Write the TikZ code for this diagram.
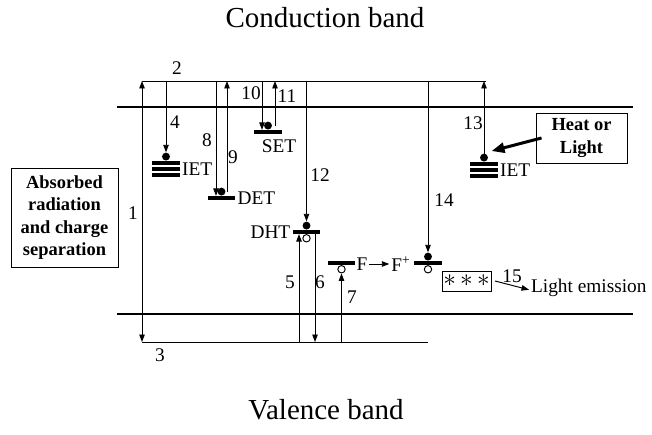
\documentclass[tikz,border=0pt]{standalone}
\usepackage{fontspec}
\setmainfont{Liberation Serif}
\usetikzlibrary{arrows.meta,positioning,calc}
\tikzset{
  >={Triangle[length=1.5mm,width=1.1mm]},
  band/.style={line width=1.2pt},
  thin/.style={line width=0.55pt},
  hop/.style={->,thin},
  lvl/.style={fill=black,inner sep=0pt,minimum width=0.55cm,minimum height=2pt},
  elec/.style={circle,fill=black,inner sep=0pt,minimum size=4.5pt},
  hole/.style={circle,draw=black,fill=white,line width=0.55pt,inner sep=0pt,minimum size=4.2pt},
  num/.style={font=\fontsize{11}{13}\selectfont,inner sep=1pt},
  title/.style={font=\fontsize{16.5}{19}\selectfont},
  note/.style={draw,thin,align=center,inner sep=0pt,font=\fontsize{10.5}{12.8}\selectfont\bfseries},
}
\begin{document}
\begin{tikzpicture}[x=0.02cm,y=-0.02cm]
  \useasboundingbox (0,0) rectangle (652,435);
  \node[title] (cb) at (325,18) {Conduction band};
  \node[title] (vb) at (326,410) {Valence band};
  % band edges and reference lines
  \coordinate (cbl) at (117,107); \coordinate (cbr) at (633,107);
  \coordinate (vbl) at (117,314); \coordinate (vbr) at (633,314);
  \coordinate (tl) at (142,81); \coordinate (tr) at (486,81);
  \coordinate (bl) at (142,342); \coordinate (br) at (428,342);
  \draw[band] (cbl) -- (cbr); \draw[band] (vbl) -- (vbr);
  \draw[thin] (tl) -- (tr); \draw[thin] (bl) -- (br);
  \draw[thin,<->] (bl) -- (tl);
  % trap levels
  \node[lvl] (ietA) at (166,163) {}; \node[lvl] (ietB) at (166,169) {}; \node[lvl] (ietC) at (166,175) {};
  \node[elec,above=0pt of ietA] (ietAe) {}; \node[num,right=0pt of ietB] {IET};
  \node[lvl] (det) at (221.5,198) {}; \node[elec,above=0pt of det] (dete) {};
  \node[num,right=0pt of det] {DET};
  \node[lvl] (set) at (268,132) {}; \node[elec,above=0pt of set] (sete) {};
  \node[num] (setl) at (279,146) {SET};
  \node[lvl] (dht) at (306.5,232) {}; \node[elec,above=0pt of dht] (dhte) {};
  \node[hole,below=0pt of dht] (dhth) {}; \node[num,left=0pt of dht] {DHT};
  \node[lvl] (fl) at (341.5,263) {}; \node[hole,below=0pt of fl] (flh) {};
  \node[num] (f) at (362,264) {F}; \node[num] (fp) at (401,264) {F\textsuperscript{+}};
  \draw[hop] (f) -- (fp);
  \node[lvl] (fpl) at (428,263) {}; \node[elec,above=0pt of fpl] (fple) {};
  \node[hole,below=0pt of fpl] (fplh) {};
  \node[lvl] (jetA) at (484,164) {}; \node[lvl] (jetB) at (484,170) {}; \node[lvl] (jetC) at (484,176) {};
  \node[elec,above=0pt of jetA] (jetAe) {}; \node[num,right=0pt of jetB] {IET};
  % transitions
  \draw[hop] (ietAe |- tl) -- (ietAe);
  \draw[hop] ([xshift=-0.11cm]det.north |- tl) -- ([xshift=-0.11cm]det.north);
  \draw[hop] ([xshift=0.11cm]dete.center) -- ([xshift=0.11cm]dete.center |- tl);
  \draw[hop] ([xshift=-0.12cm]set.north |- tl) -- ([xshift=-0.12cm]set.north);
  \draw[hop] ([xshift=0.14cm]sete.center) -- ([xshift=0.14cm]sete.center |- tl);
  \draw[hop] (dhte |- tl) -- (dhte);
  \draw[hop] ([xshift=-0.15cm]dht.south |- bl) -- ([xshift=-0.15cm]dht.south);
  \draw[hop] ([xshift=0.17cm]dht.south) -- ([xshift=0.17cm]dht.south |- bl);
  \draw[hop] (flh |- bl) -- (flh);
  \draw[hop] (fple |- tl) -- (fple);
  \draw[hop] (jetAe.center) -- (jetAe |- tl);
  % numbers
  \node[num] (n1) at (133,213) {1}; \node[num] (n2) at (177,68) {2};
  \node[num] (n3) at (160,355) {3}; \node[num] (n4) at (175,122) {4};
  \node[num] (n5) at (290,282) {5}; \node[num] (n6) at (320,282) {6};
  \node[num] (n7) at (352,297) {7}; \node[num] (n8) at (207,140) {8};
  \node[num] (n9) at (233,157) {9}; \node[num] (n10) at (251,93) {10};
  \node[num] (n11) at (287,96) {11}; \node[num] (n12) at (320,175) {12};
  \node[num] (n13) at (473,123) {13}; \node[num] (n14) at (444,200) {14};
  % boxes
  \node[note,minimum width=2.14cm,minimum height=1.98cm] (abs) at (64.5,217.5)
    {Absorbed\\radiation\\and charge\\separation};
  \node[note,minimum width=1.82cm,minimum height=1cm] (heat) at (581.5,138) {Heat or\\Light};
  \draw[line width=1.7pt,-{Triangle[length=2.6mm,width=2mm]}] ([xshift=0.12cm]heat.west)
    -- ([shift={(0.09cm,0.07cm)}]jetAe.north east);
  \node[draw,thin,minimum width=0.98cm,minimum height=0.4cm,inner sep=0pt] (ast) at (466.5,281)
    {\fontsize{14}{14}\selectfont$\mathord{\ast}\,\mathord{\ast}\,\mathord{\ast}$};
  \node[num,anchor=west] (light) at (529,288) {Light emission};
  \draw[hop] ([xshift=2pt]ast.east) -- node[num,above=0pt] {15} ([yshift=-1pt]light.west);
\end{tikzpicture}
\end{document}
